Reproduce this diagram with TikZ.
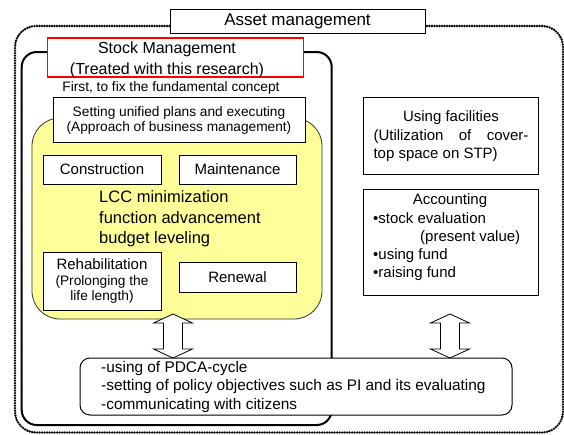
\documentclass[tikz,border=0pt]{standalone}
\usepackage{fontspec}
\setmainfont{Liberation Sans}
\setlength{\parindent}{0pt}
\definecolor{lcyellow}{RGB}{255,255,153}
\definecolor{boxred}{RGB}{255,0,0}
\newcommand\myfs[2]{\fontsize{#1}{#2}\selectfont}
\begin{document}
\begin{tikzpicture}[x=1pt,y=-1pt,
  box/.style={draw, line width=1pt, fill=white, inner sep=0pt, align=center},
  txt/.style={inner sep=0pt, align=center},
  outerbox/.style={draw, line width=2.6pt, dash pattern=on 0pt off 2.5pt, line cap=round, rounded corners=21pt, inner sep=0pt},
  updown/.pic={\draw[line width=0.8pt, fill=white] (0,0) -- (19.5,9) -- (9.5,9) -- (9.5,35) -- (19.5,35) -- (0,44) -- (-19.5,35) -- (-9.5,35) -- (-9.5,9) -- (-19.5,9) -- cycle;}]
\useasboundingbox (0,0) rectangle (564,434);
% outer asset management frame
\node[outerbox, minimum width=548pt, minimum height=406.5pt] (asset) at (289,229.25) {};
\node[box, minimum width=255pt, minimum height=24pt, font=\myfs{17}{20}] (assettitle) at (297.5,21.3) {Asset management};
% stock management frame
\node[draw, line width=2pt, rounded corners=15pt, minimum width=310pt, minimum height=373pt, inner sep=0pt] (stock) at (176.7,238.5) {};
\node[draw=boxred, line width=1.2pt, fill=white, minimum width=256pt, minimum height=39pt, inner sep=0pt] (redbox) at (175.85,57.5) {};
\node[txt, font=\myfs{16}{21}] (stocktitle) at (167,59.5) {Stock Management\\(Treated with this research)};
\node[txt, font=\myfs{13.7}{16}] (first) at (171,88) {First, to fix the fundamental concept};
% yellow area
\node[draw=black!80, line width=0.8pt, fill=lcyellow, rounded corners=28pt, minimum width=290pt, minimum height=201pt, inner sep=0pt] (yellow) at (177,218.5) {};
\node[box, minimum width=252pt, minimum height=45pt, font=\myfs{13.7}{15.5}] (setting) at (179,120.35) {Setting unified plans and executing\\(Approach of business management)};
\node[box, minimum width=118pt, minimum height=29pt, font=\myfs{15}{18}] (construction) at (102,169.5) {Construction};
\node[box, minimum width=117pt, minimum height=29pt, font=\myfs{15}{18}] (maintenance) at (237.5,169.5) {Maintenance};
\node[txt, align=left, anchor=west, font=\myfs{16.5}{20.5}] (lcc) at (99,219) {LCC minimization\\function advancement\\budget leveling};
\node[box, minimum width=118pt, minimum height=58pt, font=\myfs{13.7}{15.5}] (rehab) at (102,281) {{\myfs{15}{18}Rehabilitation}\\(Prolonging the\\life length)};
\node[box, minimum width=117pt, minimum height=30pt, font=\myfs{15}{18}] (renewal) at (237.5,277) {Renewal};
% right side
\node[box, minimum width=175pt, minimum height=77pt] (using) at (450.5,135.5) {};
\node[inner sep=0pt, text width=155pt, align=justify, font=\myfs{15}{18.5}] (usingtext) at (451,136.5) {\makebox[155pt]{Using facilities}\par (Utilization of cover-\linebreak top space on STP)};
\node[box, minimum width=175pt, minimum height=106pt] (acc) at (450.5,242) {};
\node[txt, font=\myfs{15}{18}] (acctitle) at (450,201) {Accounting};
\node[inner sep=0pt, anchor=west, align=left, font=\myfs{15}{18}] (acclist) at (373,247) {•stock evaluation\\\hspace*{47pt}(present value)\\•using fund\\•raising fund};
% block arrows
\pic at (173,314) {updown};
\pic at (450,314) {updown};
% bottom box
\node[box, rounded corners=10pt, minimum width=432pt, minimum height=57pt] (pdca) at (296,386.5) {};
\node[txt, align=left, anchor=west, font=\myfs{15.4}{18.5}] (pdcatext) at (101,387) {-using of PDCA-cycle\\-setting of policy objectives such as PI and its evaluating\\-communicating with citizens};
\end{tikzpicture}
\end{document}
